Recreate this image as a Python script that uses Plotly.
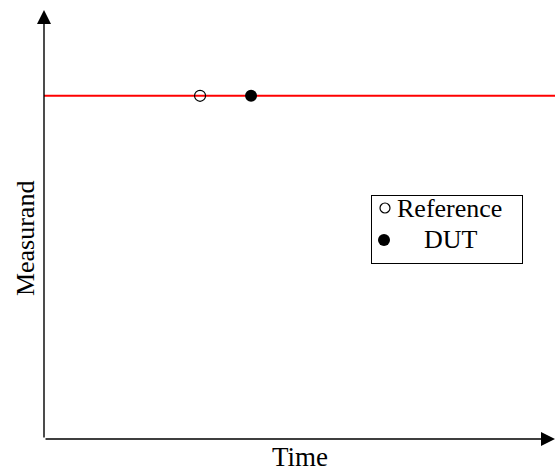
import plotly.graph_objects as go

# data
series_names = ["Reference", "DUT"]
series_time = [3.0, 4.0]
series_measurand = [8.0, 8.0]
true_value = 8.0
x_range = [-0.06, 9.96]
y_range = [0.0, 10.0]
x_title = "Time"
y_title = "Measurand"

FONT = "Liberation Serif"

fig = go.Figure()
fig.add_trace(go.Scatter(
    x=[series_time[0]], y=[series_measurand[0]], mode="markers", name=series_names[0],
    marker=dict(symbol="circle-open", size=11, color="black", opacity=1,
                line=dict(width=1.2, color="black")),
    showlegend=False,
))
fig.add_trace(go.Scatter(
    x=[series_time[1]], y=[series_measurand[1]], mode="markers", name=series_names[1],
    marker=dict(symbol="circle", size=12, color="black", opacity=1),
    showlegend=False,
))
fig.add_hline(y=true_value, line=dict(color="#ff0000", width=2), layer="below")

# manual legend box (separate small axes, pixel-like units)
fig.add_trace(go.Scatter(
    x=[13], y=[12], mode="markers", xaxis="x2", yaxis="y2", showlegend=False,
    hoverinfo="skip",
    marker=dict(symbol="circle-open", size=10, color="black", opacity=1,
                line=dict(width=1.2, color="black")),
))
fig.add_trace(go.Scatter(
    x=[12], y=[44], mode="markers", xaxis="x2", yaxis="y2", showlegend=False,
    hoverinfo="skip",
    marker=dict(symbol="circle", size=12, color="black", opacity=1),
))
fig.add_annotation(x=23, y=12, xref="x2", yref="y2", text=series_names[0], showarrow=False,
                   xanchor="left", yanchor="middle",
                   font=dict(family=FONT, size=26, color="black"))
fig.add_annotation(x=79, y=43, xref="x2", yref="y2", text=series_names[1], showarrow=False,
                   xanchor="center", yanchor="middle",
                   font=dict(family=FONT, size=26, color="black"))

# axis arrows
fig.add_annotation(x=0, y=1.0, ax=0, ay=0, xref="x domain", yref="y domain",
                   axref="x domain", ayref="y domain", showarrow=True, arrowhead=2,
                   arrowsize=2, arrowwidth=1.4, arrowcolor="black", text="")
fig.add_annotation(x=1.0, y=0, ax=0, ay=0, xref="x domain", yref="y domain",
                   axref="x domain", ayref="y domain", showarrow=True, arrowhead=2,
                   arrowsize=2, arrowwidth=1.4, arrowcolor="black", text="")

# axis titles
fig.add_annotation(x=0.5, y=-0.042, xref="x domain", yref="y domain", text=x_title,
                   showarrow=False, yanchor="middle", xanchor="center",
                   font=dict(family=FONT, size=27, color="black"))
fig.add_annotation(x=-0.037, y=0.4685, xref="x domain", yref="y domain", text=y_title,
                   showarrow=False, textangle=-90, yanchor="middle", xanchor="center",
                   font=dict(family=FONT, size=26, color="black"))

fig.update_layout(
    width=555, height=472,
    margin=dict(l=44, r=0, t=10, b=33),
    plot_bgcolor="white", paper_bgcolor="white",
    showlegend=False,
    xaxis=dict(range=x_range, showgrid=False, zeroline=False, showticklabels=False,
               ticks="", showline=False, fixedrange=True, domain=[0, 1]),
    yaxis=dict(range=y_range, showgrid=False, zeroline=False, showticklabels=False,
               ticks="", showline=False, fixedrange=True, domain=[0, 1]),
    xaxis2=dict(domain=[0.64188, 0.93542], range=[0, 150], anchor="y2",
                showgrid=False, zeroline=False, showticklabels=False, ticks="",
                showline=True, mirror=True, linecolor="black", linewidth=1, fixedrange=True),
    yaxis2=dict(domain=[0.41026, 0.56643], range=[67, 0], anchor="x2",
                showgrid=False, zeroline=False, showticklabels=False, ticks="",
                showline=True, mirror=True, linecolor="black", linewidth=1, fixedrange=True),
)

fig.write_html("out.html", config={"displayModeBar": False},
               post_script="document.body.style.margin='0px';")
